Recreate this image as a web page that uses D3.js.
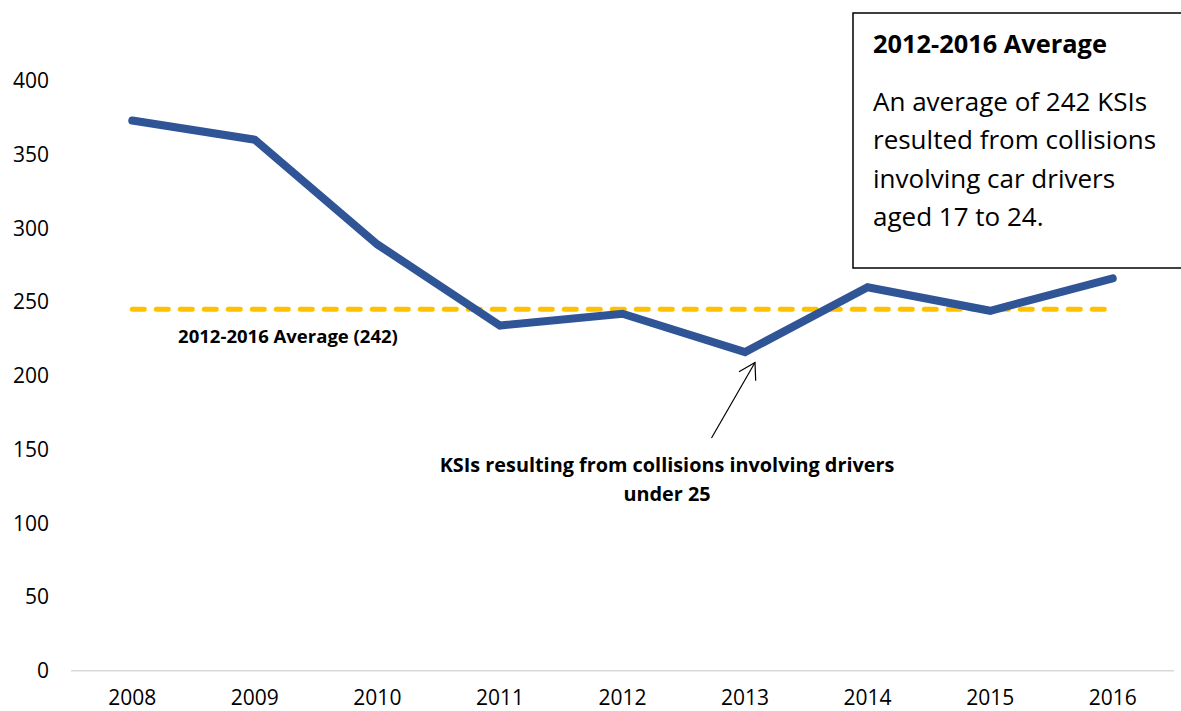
<!DOCTYPE html>
<html>
<head>
<meta charset="utf-8">
<script src="https://cdn.jsdelivr.net/npm/d3@7"></script>
<style>
  html, body { margin: 0; padding: 0; background: #fff; }
  svg { display: block; font-family: "Open Sans", Lato, sans-serif; }
</style>
</head>
<body>
<svg id="chart" width="1181" height="711"></svg>
<script>
const years = ["2008","2009","2010","2011","2012","2013","2014","2015","2016"];
const ksiValues = [373, 360, 289, 234, 242, 216, 260, 244, 266];
const averageValue = 245;
const yTicks = [0, 50, 100, 150, 200, 250, 300, 350, 400];
const averageLabel = "2012-2016 Average (242)";
const boxTitle = "2012-2016 Average";
const boxLines = ["An average of 242 KSIs", "resulted from collisions", "involving car drivers", "aged 17 to 24."];
const seriesLabel = ["KSIs resulting from collisions involving drivers", "under 25"];

const svg = d3.select("#chart");

const x = d3.scalePoint().domain(years).range([71, 1174]).padding(0.5);
const y = d3.scaleLinear().domain([0, 400]).range([670.7, 80.7]);

// y tick labels
svg.append("g").selectAll("text").data(yTicks).join("text")
  .attr("x", 49).attr("y", d => y(d)).attr("dy", "0.35em")
  .attr("text-anchor", "end").attr("font-size", 21).attr("fill", "#000")
  .text(d => d);

// x axis line
svg.append("line").attr("x1", 71).attr("x2", 1174)
  .attr("y1", y(0)).attr("y2", y(0))
  .attr("stroke", "#d9d9d9").attr("stroke-width", 1.5);

// x tick labels
svg.append("g").selectAll("text").data(years).join("text")
  .attr("x", d => x(d)).attr("y", 705)
  .attr("text-anchor", "middle").attr("font-size", 21).attr("fill", "#000")
  .text(d => d);

// average dashed line
svg.append("line")
  .attr("x1", x(years[0])).attr("x2", x(years[years.length - 1]))
  .attr("y1", y(averageValue)).attr("y2", y(averageValue))
  .attr("stroke", "#FFC000").attr("stroke-width", 5)
  .attr("stroke-linecap", "round").attr("stroke-dasharray", "12,12");

// KSI line
const line = d3.line().x((d, i) => x(years[i])).y(d => y(d));
svg.append("path").datum(ksiValues)
  .attr("d", line).attr("fill", "none")
  .attr("stroke", "#2F5597").attr("stroke-width", 8)
  .attr("stroke-linecap", "round").attr("stroke-linejoin", "miter");

// helper: fit text to a measured target width
function fit(sel, target) {
  sel.each(function () {
    const w = this.getComputedTextLength();
    const fs = parseFloat(d3.select(this).attr("font-size"));
    d3.select(this).attr("font-size", (fs * target / w).toFixed(2));
  });
}

// average label
svg.append("text").attr("x", 288).attr("y", 343)
  .attr("text-anchor", "middle").attr("font-weight", "bold").attr("font-size", 16)
  .text(averageLabel).call(fit, 220);

// series annotation
const ann = svg.append("g").selectAll("text").data(seriesLabel).join("text")
  .attr("x", 667).attr("y", (d, i) => 472 + i * 29)
  .attr("text-anchor", "middle").attr("font-weight", "bold").attr("font-size", 18)
  .text(d => d);
const annFs = 18 * 455 / ann.nodes()[0].getComputedTextLength();
ann.attr("font-size", annFs.toFixed(2));

// arrow
const tip = [755, 362.5], tail = [711.5, 438];
svg.append("line").attr("x1", tail[0]).attr("y1", tail[1]).attr("x2", tip[0]).attr("y2", tip[1])
  .attr("stroke", "#000").attr("stroke-width", 1.2);
svg.append("path")
  .attr("d", `M739,371.7 L${tip[0]},${tip[1]} L755.7,380.7`)
  .attr("fill", "none").attr("stroke", "#000").attr("stroke-width", 1.2);

// text box
svg.append("rect").attr("x", 853).attr("y", 13).attr("width", 340).attr("height", 255)
  .attr("fill", "#fff").attr("stroke", "#000").attr("stroke-width", 1.5);
svg.append("text").attr("x", 873).attr("y", 53)
  .attr("font-weight", "bold").attr("font-size", 22).text(boxTitle).call(fit, 234);
const body = svg.append("g").selectAll("text").data(boxLines).join("text")
  .attr("x", 873).attr("y", (d, i) => 111 + i * 38.3)
  .attr("font-size", 22).text(d => d);
const bodyFs = 22 * 274 / body.nodes()[0].getComputedTextLength();
body.attr("font-size", bodyFs.toFixed(2));
</script>
</body>
</html>
